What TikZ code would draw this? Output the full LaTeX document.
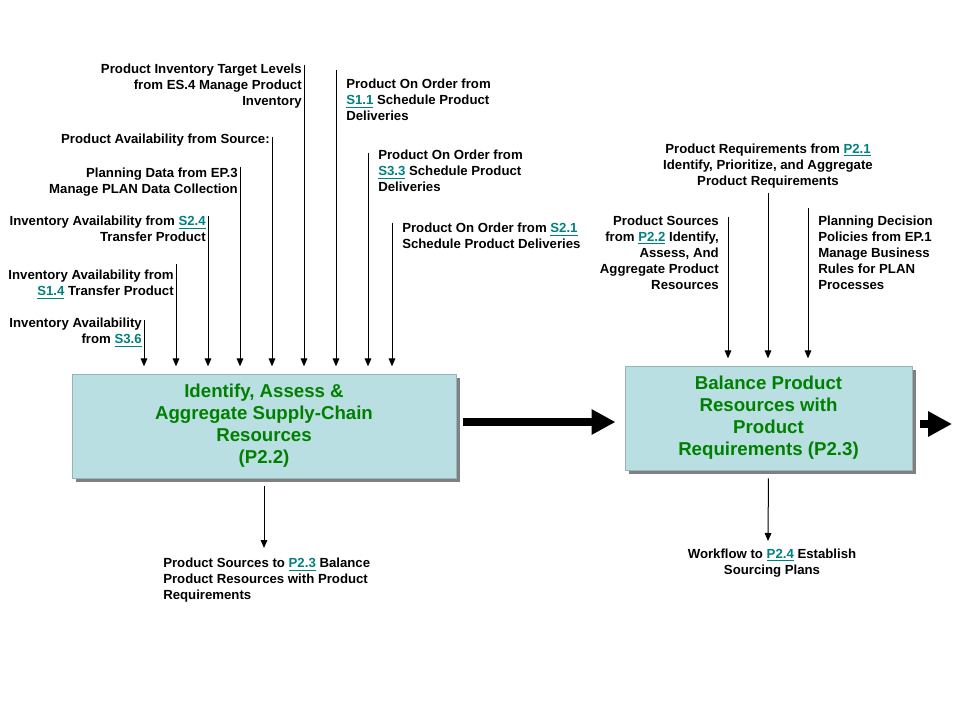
\documentclass[tikz,border=0pt]{standalone}
\usepackage{fontspec}
\setmainfont{Liberation Sans}
\usetikzlibrary{arrows.meta,shadows}
\definecolor{boxfill}{RGB}{186,223,226}
\definecolor{boxline}{RGB}{150,180,185}
\definecolor{procgreen}{RGB}{0,128,0}
\definecolor{linkteal}{RGB}{0,128,128}
\definecolor{shadowgray}{RGB}{128,128,128}
\newcommand{\lnk}[1]{\textcolor{linkteal}{\underline{#1}}}
\begin{document}
\begin{tikzpicture}[x=0.75pt,y=-0.75pt,
	lbl/.style={inner sep=0pt,font=\fontsize{9.9}{12}\selectfont\bfseries},
	proc/.style={draw=boxline,line width=0.5pt,fill=boxfill,minimum height=78pt,inner sep=0pt,align=center,
		font=\fontsize{14}{16.5}\selectfont\bfseries,text=procgreen,
		drop shadow={shadow xshift=3pt,shadow yshift=-3pt,fill=shadowgray,opacity=1}},
	flow/.style={-{Triangle[width=5pt,length=6pt]},line width=0.75pt,shorten >=5.5pt},
	bigflow/.style={-{Triangle[width=18pt,length=18pt]},line width=6pt}]
	\useasboundingbox (0,0) rectangle (960,720);
	% process boxes
	\node[proc,minimum width=288pt] (b1) at (264,426) {Identify, Assess \&\\Aggregate Supply-Chain\\Resources\\(P2.2)};
	\node[proc,minimum width=215pt] (b2) at (768.5,418) {Balance Product\\Resources with\\Product\\Requirements (P2.3)};
	% inputs to P2.2
	\node[lbl,anchor=north east,align=right] (l1) at (142,318) {Inventory Availability\\from \lnk{S3.6}};
	\node[lbl,anchor=north east,align=right] (l2) at (174,270) {Inventory Availability from\\\lnk{S1.4} Transfer Product};
	\node[lbl,anchor=north east,align=right] (l3) at (206,216) {Inventory Availability from \lnk{S2.4}\\Transfer Product};
	\node[lbl,anchor=north east,align=right] (l4) at (238,168) {Planning Data from EP.3\\Manage PLAN Data Collection};
	\node[lbl,anchor=north east,align=right] (l5) at (270,134) {Product Availability from Source:};
	\node[lbl,anchor=north east,align=right] (l6) at (302,64) {Product Inventory Target Levels\\from ES.4 Manage Product\\Inventory};
	\node[lbl,anchor=north west,align=left] (l7) at (346,79) {Product On Order from\\\lnk{S1.1} Schedule Product\\Deliveries};
	\node[lbl,anchor=north west,align=left] (l8) at (378,150) {Product On Order from\\\lnk{S3.3} Schedule Product\\Deliveries};
	\node[lbl,anchor=north west,align=left] (l9) at (402,223) {Product On Order from \lnk{S2.1}\\Schedule Product Deliveries};
	\coordinate (t1) at (144,320); \coordinate (t2) at (176,264); \coordinate (t3) at (208,216);
	\coordinate (t4) at (240,167); \coordinate (t5) at (272,137); \coordinate (t6) at (304,65);
	\coordinate (t7) at (336,70); \coordinate (t8) at (368,153); \coordinate (t9) at (392,223);
	\draw[flow] (t1) -- (t1 |- b1.north); \draw[flow] (t2) -- (t2 |- b1.north); \draw[flow] (t3) -- (t3 |- b1.north);
	\draw[flow] (t4) -- (t4 |- b1.north); \draw[flow] (t5) -- (t5 |- b1.north); \draw[flow] (t6) -- (t6 |- b1.north);
	\draw[flow] (t7) -- (t7 |- b1.north); \draw[flow] (t8) -- (t8 |- b1.north); \draw[flow] (t9) -- (t9 |- b1.north);
	% inputs to P2.3
	\node[lbl,anchor=north,align=center] (r2) at (768,144) {Product Requirements from \lnk{P2.1}\\Identify, Prioritize, and Aggregate\\Product Requirements};
	\node[lbl,anchor=north east,align=right] (r1) at (719,216) {Product Sources\\from \lnk{P2.2} Identify,\\Assess, And\\Aggregate Product\\Resources};
	\node[lbl,anchor=north west,align=left] (r3) at (818,216) {Planning Decision\\Policies from EP.1\\Manage Business\\Rules for PLAN\\Processes};
	\coordinate (u1) at (728,217); \coordinate (u2) at (768,193); \coordinate (u3) at (808,208);
	\draw[flow] (u1) -- (u1 |- b2.north); \draw[flow] (u2) -- (u2 |- b2.north); \draw[flow] (u3) -- (u3 |- b2.north);
	% outputs
	\node[lbl,anchor=north west,align=left] (d1) at (163,558) {Product Sources to \lnk{P2.3} Balance\\Product Resources with Product\\Requirements};
	\node[lbl,anchor=north,align=center] (d2) at (772,549) {Workflow to \lnk{P2.4} Establish\\Sourcing Plans};
	\coordinate (o1) at (264,548); \coordinate (o2) at (768,541);
	\draw[flow,shorten >=0pt,shorten <=6pt] (b1.south) -- (o1);
	\draw[flow,shorten >=0pt,shorten <=6pt] (b2.south) -- (o2);
	% main flow
	\coordinate (m1) at ([yshift=3pt]b1.east); \coordinate (m2) at ([yshift=-4.5pt]b2.east); \coordinate (out) at (952,424);
	\draw[bigflow,shorten <=5pt,shorten >=7pt] (m1) -- (m1 -| b2.west);
	\draw[bigflow,shorten <=6pt] (m2) -- (out);
\end{tikzpicture}
\end{document}
